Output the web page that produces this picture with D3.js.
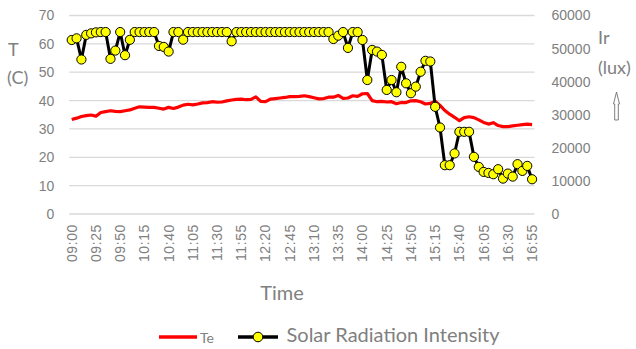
<!DOCTYPE html>
<html>
<head>
<meta charset="utf-8">
<script src="https://cdn.jsdelivr.net/npm/d3@7"></script>
<style>
  body { margin: 0; background: #fff; }
  svg { display: block; font-family: Lato, "Open Sans", sans-serif; }
  .tick text { fill: #808080; }
</style>
</head>
<body>
<div id="chart"></div>
<script>
// categorías (cada 5 minutos)
const times = [
  "09:00","09:05","09:10","09:15","09:20","09:25","09:30","09:35","09:40","09:45","09:50","09:55",
  "10:00","10:05","10:10","10:15","10:20","10:25","10:30","10:35","10:40","10:45","10:50","10:55",
  "11:00","11:05","11:10","11:15","11:20","11:25","11:30","11:35","11:40","11:45","11:50","11:55",
  "12:00","12:05","12:10","12:15","12:20","12:25","12:30","12:35","12:40","12:45","12:50","12:55",
  "13:00","13:05","13:10","13:15","13:20","13:25","13:30","13:35","13:40","13:45","13:50","13:55",
  "14:00","14:05","14:10","14:15","14:20","14:25","14:30","14:35","14:40","14:45","14:50","14:55",
  "15:00","15:05","15:10","15:15","15:20","15:25","15:30","15:35","15:40","15:45","15:50","15:55",
  "16:00","16:05","16:10","16:15","16:20","16:25","16:30","16:35","16:40","16:45","16:50","16:55"
];

// etiquetas del eje X
const timeTicks = ["09:00","09:25","09:50","10:15","10:40","11:05","11:30","11:55","12:20","12:45",
  "13:10","13:35","14:00","14:25","14:50","15:15","15:40","16:05","16:30","16:55"];

// temperatura (C)
const te = [
  33.3, 33.8, 34.4, 34.7, 34.9, 34.5, 35.8, 36.1, 36.4, 36.2, 36.1, 36.4,
  36.7, 37.3, 37.8, 37.7, 37.6, 37.6, 37.3, 37.0, 37.6, 37.2, 37.7, 38.4,
  38.7, 38.5, 38.8, 39.2, 39.3, 39.6, 39.4, 39.5, 39.9, 40.2, 40.4, 40.5,
  40.3, 40.4, 41.3, 39.7, 39.6, 40.5, 40.7, 40.9, 41.1, 41.4, 41.4, 41.5,
  41.7, 41.4, 41.0, 40.6, 40.7, 41.2, 41.2, 41.8, 40.8, 40.9, 41.7, 41.5,
  42.4, 42.5, 40.0, 39.6, 39.7, 39.5, 39.6, 38.9, 39.3, 39.3, 39.9, 40.0,
  39.6, 38.8, 39.0, 39.8, 38.3, 36.5, 35.2, 34.1, 32.9, 34.0, 34.3, 34.0,
  33.2, 32.3, 31.7, 32.2, 31.2, 30.8, 30.8, 31.1, 31.3, 31.5, 31.7, 31.5
];

// radiación solar (lux)
const solar = [
  52600, 53100, 46700, 54150, 54600, 54900, 55000, 55000, 46900, 49400, 55000, 48000,
  52650, 55000, 55000, 55000, 55000, 55000, 50800, 50500, 49100, 55000, 55000, 52700,
  55000, 55000, 55000, 55000, 55000, 55000, 55000, 55000, 55000, 52200, 55000, 55000,
  55000, 55000, 55000, 55000, 55000, 55000, 55000, 55000, 55000, 55000, 55000, 55000,
  55000, 55000, 55000, 55000, 55000, 55000, 52900, 53900, 55000, 50200, 55000, 55000,
  52600, 40500, 49600, 49100, 48100, 37500, 40500, 36800, 44500, 39500, 36500, 38500,
  43000, 46300, 46100, 32400, 26150, 14750, 14750, 18300, 24850, 24850, 24850, 17270,
  14240, 12730, 12420, 12020, 13540, 10700, 12220, 11310, 15060, 13030, 14540, 10500
];

const leftTicks = [0, 10, 20, 30, 40, 50, 60, 70];
const rightTicks = [0, 10000, 20000, 30000, 40000, 50000, 60000];

const width = 636, height = 349;
const plot = { left: 69.3, right: 534.5, top: 15.5, bottom: 214 };

const svg = d3.select("#chart").append("svg")
  .attr("width", width)
  .attr("height", height);

const x = d3.scaleBand().domain(times).range([plot.left, plot.right]).padding(0);
const yL = d3.scaleLinear().domain([0, 70]).range([plot.bottom, plot.top]);
const yR = d3.scaleLinear().domain([0, 60000]).range([plot.bottom, plot.top]);
const cx = d => x(d) + x.bandwidth() / 2;

// líneas de cuadrícula
svg.append("g")
  .selectAll("line")
  .data(leftTicks)
  .join("line")
  .attr("x1", plot.left).attr("x2", plot.right)
  .attr("y1", d => yL(d)).attr("y2", d => yL(d))
  .attr("stroke", "#d9d9d9")
  .attr("stroke-width", 1.3);

// eje izquierdo
const axL = svg.append("g")
  .attr("transform", `translate(${plot.left},0)`)
  .call(d3.axisLeft(yL).tickValues(leftTicks).tickSize(0).tickPadding(15));
axL.select(".domain").remove();
axL.selectAll("text").style("font-size", "14px");

// eje derecho
const axR = svg.append("g")
  .attr("transform", `translate(${plot.right},0)`)
  .call(d3.axisRight(yR).tickValues(rightTicks).tickFormat(d3.format("d")).tickSize(0).tickPadding(17));
axR.select(".domain").remove();
axR.selectAll("text").style("font-size", "14px");

// eje X
const axX = svg.append("g")
  .attr("transform", `translate(0,${plot.bottom})`)
  .call(d3.axisBottom(x).tickValues(timeTicks).tickSize(0));
axX.select(".domain").remove();
axX.selectAll("text")
  .style("font-size", "14px")
  .style("letter-spacing", "0.6px")
  .attr("text-anchor", "end")
  .attr("transform", "rotate(-90)")
  .attr("x", -10)
  .attr("y", 0)
  .attr("dy", "0.35em");

// línea Te
svg.append("path")
  .datum(te)
  .attr("fill", "none")
  .attr("stroke", "#ff0000")
  .attr("stroke-width", 3.2)
  .attr("stroke-linejoin", "round")
  .attr("d", d3.line().x((d, i) => cx(times[i])).y(d => yL(d)));

// línea radiación solar
svg.append("path")
  .datum(solar)
  .attr("fill", "none")
  .attr("stroke", "#000")
  .attr("stroke-width", 3)
  .attr("stroke-linejoin", "round")
  .attr("d", d3.line().x((d, i) => cx(times[i])).y(d => yR(d)));

svg.append("g")
  .selectAll("circle")
  .data(solar)
  .join("circle")
  .attr("cx", (d, i) => cx(times[i]))
  .attr("cy", d => yR(d))
  .attr("r", 4.6)
  .attr("fill", "#ffff00")
  .attr("stroke", "#000")
  .attr("stroke-width", 1);

// títulos de ejes
const titleColor = "#808080";
svg.append("text").attr("x", 8).attr("y", 56).text("T")
  .attr("fill", titleColor).style("font-size", "18px");
svg.append("text").attr("x", 7).attr("y", 84).text("(C)")
  .attr("fill", titleColor).style("font-size", "18px");
svg.append("text").attr("x", 598).attr("y", 44).text("Ir")
  .attr("fill", titleColor).style("font-size", "18px");
svg.append("text").attr("x", 598).attr("y", 74).text("(lux)")
  .attr("fill", titleColor).style("font-size", "18px");
svg.append("text").attr("x", 282).attr("y", 300).text("Time")
  .attr("text-anchor", "middle")
  .attr("fill", titleColor).style("font-size", "20px");

// flecha
svg.append("path")
  .attr("d", "M616.5,92 L619.5,104 L618.3,104 L618.3,120 L614.7,120 L614.7,104 L613.5,104 Z")
  .attr("fill", "#fff")
  .attr("stroke", "#707070")
  .attr("stroke-width", 0.9);

// leyenda
const legend = svg.append("g");
legend.append("line")
  .attr("x1", 159).attr("x2", 197).attr("y1", 337).attr("y2", 337)
  .attr("stroke", "#ff0000").attr("stroke-width", 3.5);
legend.append("text").attr("x", 200).attr("y", 343).text("Te")
  .attr("fill", titleColor).style("font-size", "14px");
legend.append("line")
  .attr("x1", 238).attr("x2", 278).attr("y1", 337).attr("y2", 337)
  .attr("stroke", "#000").attr("stroke-width", 3.5);
legend.append("circle")
  .attr("cx", 258).attr("cy", 337).attr("r", 4.8)
  .attr("fill", "#ffff00").attr("stroke", "#000").attr("stroke-width", 1);
legend.append("text").attr("x", 286.5).attr("y", 342).text("Solar Radiation Intensity")
  .attr("fill", titleColor).style("font-size", "20px");
</script>
</body>
</html>
